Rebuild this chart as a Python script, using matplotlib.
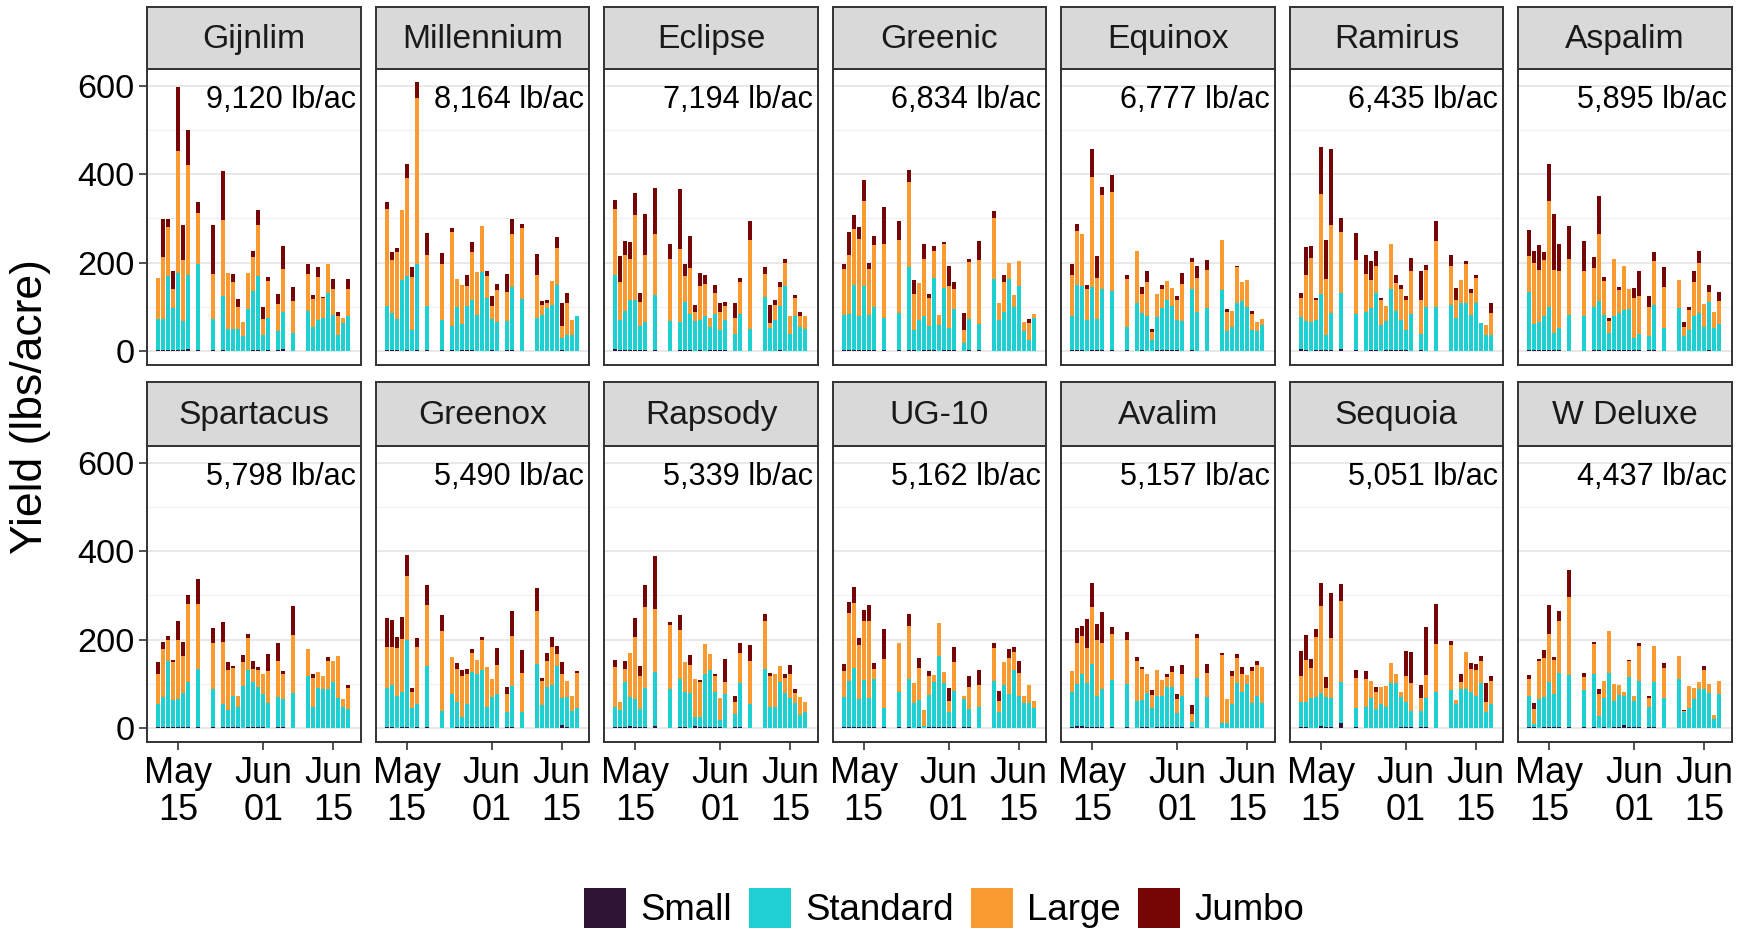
import datetime as dt
import matplotlib
matplotlib.use("Agg")
import matplotlib.pyplot as plt
import matplotlib.dates as mdates
from matplotlib import font_manager
from matplotlib.patches import Patch

# Harvest dates (same for every variety)
dates = ["2023-05-11", "2023-05-12", "2023-05-13", "2023-05-14", "2023-05-15",
         "2023-05-16", "2023-05-17", "2023-05-19", "2023-05-22", "2023-05-24",
         "2023-05-25", "2023-05-26", "2023-05-27", "2023-05-28", "2023-05-29",
         "2023-05-30", "2023-05-31", "2023-06-01", "2023-06-02", "2023-06-04",
         "2023-06-05", "2023-06-07", "2023-06-10", "2023-06-11", "2023-06-12",
         "2023-06-13", "2023-06-14", "2023-06-15", "2023-06-16", "2023-06-17",
         "2023-06-18"]

varieties = ["Gijnlim", "Millennium", "Eclipse", "Greenic", "Equinox", "Ramirus", "Aspalim",
             "Spartacus", "Greenox", "Rapsody", "UG-10", "Avalim", "Sequoia", "W Deluxe"]
totals = [9120, 8164, 7194, 6834, 6777, 6435, 5895,
          5798, 5490, 5339, 5162, 5157, 5051, 4437]

grades = ["Small", "Standard", "Large", "Jumbo"]
grade_colors = ["#2E1535", "#1FD0D3", "#F99B30", "#760606"]

# yield per harvest, lbs/acre
gijnlim_small = [2, 3, 2, 1, 2, 2, 5, 2, 1, 2, 0, 0, 0, 0, 0, 1, 2, 0, 1, 1, 4, 0, 0, 0, 0, 0, 0, 0, 0, 0, 0]
gijnlim_std = [70, 70, 167, 97, 174, 65, 167, 195, 70, 122, 49, 49, 49, 34, 94, 134, 167, 36, 74, 44, 83, 40, 91, 55, 69, 74, 132, 82, 36, 63, 78]
gijnlim_large = [93, 140, 111, 41, 277, 138, 248, 115, 102, 172, 128, 108, 51, 32, 83, 78, 115, 36, 83, 62, 98, 72, 83, 63, 98, 45, 64, 58, 42, 12, 62]
gijnlim_jumbo = [0, 85, 19, 42, 144, 79, 79, 24, 112, 111, 0, 17, 18, 0, 0, 13, 35, 27, 10, 21, 53, 32, 22, 9, 22, 3, 0, 23, 10, 0, 23]

millennium_small = [2, 3, 1, 0, 2, 0, 3, 2, 1, 1, 0, 1, 1, 1, 0, 0, 0, 1, 0, 2, 2, 0, 0, 0, 0, 0, 0, 1, 0, 0, 0]
millennium_std = [100, 82, 70, 161, 167, 48, 193, 100, 69, 55, 100, 59, 100, 115, 82, 179, 120, 70, 66, 66, 142, 118, 74, 82, 97, 104, 149, 29, 36, 36, 78]
millennium_large = [219, 120, 153, 158, 222, 120, 377, 115, 127, 214, 62, 88, 46, 108, 97, 103, 50, 30, 72, 65, 121, 160, 98, 22, 11, 54, 83, 26, 73, 34, 0]
millennium_jumbo = [17, 18, 8, 0, 32, 21, 36, 50, 25, 9, 0, 0, 24, 22, 0, 0, 10, 23, 14, 41, 34, 10, 48, 8, 7, 0, 25, 53, 22, 0, 0]

eclipse_small = [4, 1, 1, 1, 2, 2, 1, 3, 0, 1, 1, 1, 0, 1, 0, 1, 1, 2, 2, 0, 0, 0, 0, 0, 0, 1, 0, 0, 0, 0, 0]
eclipse_std = [167, 69, 89, 114, 114, 54, 65, 123, 68, 64, 109, 82, 68, 68, 79, 54, 82, 45, 68, 38, 83, 49, 123, 51, 70, 100, 147, 38, 79, 55, 49]
eclipse_large = [151, 86, 127, 92, 192, 55, 150, 138, 140, 165, 59, 105, 19, 78, 73, 20, 47, 40, 31, 36, 72, 202, 51, 13, 34, 44, 53, 40, 40, 24, 30]
eclipse_jumbo = [19, 59, 32, 39, 49, 20, 94, 105, 34, 137, 27, 72, 17, 30, 20, 0, 18, 21, 10, 34, 10, 44, 15, 40, 10, 11, 8, 0, 8, 10, 0]

greenic_small = [3, 1, 1, 2, 1, 3, 1, 1, 1, 3, 1, 0, 1, 1, 1, 0, 1, 3, 1, 0, 1, 1, 0, 0, 0, 0, 0, 0, 0, 0, 0]
greenic_std = [79, 82, 147, 78, 146, 78, 99, 74, 84, 186, 46, 69, 78, 55, 165, 59, 142, 49, 93, 17, 72, 59, 162, 69, 89, 162, 100, 147, 44, 25, 74]
greenic_large = [104, 135, 127, 173, 192, 105, 139, 166, 165, 194, 82, 84, 128, 64, 61, 23, 98, 94, 47, 31, 128, 146, 138, 39, 68, 38, 27, 57, 22, 38, 10]
greenic_jumbo = [10, 51, 32, 27, 48, 12, 22, 85, 45, 26, 31, 0, 36, 8, 10, 0, 6, 46, 15, 37, 6, 43, 17, 0, 15, 0, 0, 0, 0, 9, 0]

equinox_small = [1, 3, 1, 0, 2, 2, 1, 2, 1, 0, 1, 0, 0, 1, 1, 2, 1, 2, 0, 1, 0, 0, 0, 0, 0, 0, 0, 0, 0, 0, 0]
equinox_std = [79, 146, 146, 69, 143, 70, 140, 134, 53, 108, 84, 78, 25, 76, 97, 112, 100, 68, 68, 140, 89, 97, 137, 46, 55, 108, 112, 99, 48, 44, 59]
equinox_large = [91, 122, 117, 71, 248, 92, 211, 223, 108, 118, 43, 77, 17, 51, 41, 45, 42, 46, 84, 60, 76, 86, 114, 42, 36, 81, 45, 62, 36, 21, 13]
equinox_jumbo = [26, 17, 0, 9, 64, 50, 19, 39, 9, 0, 16, 25, 7, 0, 9, 0, 0, 8, 24, 10, 28, 23, 0, 6, 0, 4, 0, 0, 7, 0, 0]

ramirus_small = [4, 2, 0, 1, 1, 1, 1, 4, 1, 0, 1, 1, 0, 1, 1, 2, 1, 2, 0, 1, 0, 0, 0, 0, 0, 0, 0, 0, 0, 0, 0]
ramirus_std = [72, 66, 66, 69, 127, 34, 84, 127, 82, 88, 97, 131, 59, 66, 140, 89, 69, 45, 84, 38, 99, 99, 104, 74, 109, 109, 82, 108, 63, 36, 36]
ramirus_large = [43, 104, 144, 45, 226, 127, 201, 139, 123, 86, 62, 60, 55, 34, 100, 63, 71, 68, 97, 77, 84, 149, 88, 41, 52, 87, 50, 57, 0, 23, 49]
ramirus_jumbo = [12, 64, 28, 4, 108, 90, 172, 31, 60, 42, 43, 35, 5, 0, 0, 18, 9, 9, 29, 65, 12, 46, 25, 28, 0, 8, 9, 6, 0, 0, 24]

aspalim_small = [2, 2, 1, 1, 3, 1, 1, 0, 0, 1, 1, 0, 2, 1, 1, 2, 3, 2, 1, 2, 3, 0, 0, 0, 0, 0, 0, 0, 2, 0, 0]
aspalim_std = [131, 59, 64, 78, 97, 40, 51, 82, 79, 99, 112, 82, 38, 79, 84, 91, 91, 26, 38, 32, 100, 51, 97, 34, 48, 78, 85, 55, 109, 51, 60]
aspalim_large = [81, 137, 117, 126, 239, 141, 129, 126, 102, 88, 152, 77, 28, 127, 52, 100, 47, 91, 85, 65, 100, 93, 64, 21, 45, 77, 115, 51, 22, 36, 52]
aspalim_jumbo = [60, 29, 57, 19, 85, 127, 60, 74, 67, 25, 85, 8, 6, 0, 8, 0, 0, 23, 57, 26, 21, 45, 0, 11, 7, 25, 25, 0, 17, 0, 22]

spartacus_small = [2, 2, 2, 1, 3, 2, 3, 2, 1, 1, 1, 1, 1, 0, 1, 1, 1, 2, 0, 1, 1, 0, 0, 0, 0, 0, 0, 0, 0, 0, 0]
spartacus_std = [53, 67, 149, 61, 62, 77, 100, 132, 87, 53, 40, 72, 47, 95, 131, 102, 91, 74, 57, 68, 65, 78, 117, 47, 91, 89, 89, 104, 67, 47, 42]
spartacus_large = [68, 110, 48, 86, 134, 83, 178, 146, 105, 141, 91, 62, 25, 54, 71, 30, 39, 45, 71, 83, 56, 133, 62, 65, 35, 28, 63, 47, 95, 18, 49]
spartacus_jumbo = [26, 15, 9, 5, 43, 32, 19, 58, 34, 45, 16, 6, 0, 15, 9, 19, 7, 0, 40, 41, 7, 64, 0, 10, 0, 0, 8, 0, 0, 0, 6]

greenox_small = [1, 2, 0, 1, 1, 0, 1, 1, 0, 0, 1, 1, 1, 1, 2, 3, 1, 1, 0, 1, 2, 0, 0, 0, 0, 0, 0, 6, 1, 0, 0]
greenox_std = [89, 95, 72, 80, 198, 46, 53, 140, 38, 76, 57, 23, 53, 126, 121, 127, 47, 68, 76, 35, 92, 37, 145, 51, 92, 98, 140, 61, 68, 38, 46]
greenox_large = [92, 86, 109, 120, 144, 36, 128, 137, 182, 84, 75, 94, 69, 42, 30, 69, 89, 42, 66, 41, 115, 88, 120, 55, 59, 85, 28, 56, 38, 34, 79]
greenox_jumbo = [66, 62, 25, 50, 49, 9, 22, 46, 36, 0, 13, 13, 10, 9, 0, 7, 0, 0, 39, 16, 56, 52, 51, 6, 19, 22, 17, 26, 0, 0, 3]

rapsody_small = [1, 2, 1, 4, 1, 2, 1, 4, 0, 1, 1, 0, 4, 2, 2, 1, 1, 1, 0, 1, 2, 0, 0, 0, 0, 0, 0, 0, 0, 0, 0]
rapsody_std = [46, 38, 102, 65, 65, 40, 89, 123, 87, 110, 80, 80, 20, 23, 121, 131, 80, 17, 76, 31, 100, 55, 134, 47, 47, 104, 80, 67, 57, 29, 35]
rapsody_large = [90, 18, 30, 101, 140, 75, 183, 142, 146, 110, 67, 62, 86, 79, 66, 35, 37, 49, 28, 26, 67, 97, 108, 70, 75, 36, 33, 56, 23, 41, 24]
rapsody_jumbo = [16, 0, 19, 0, 43, 22, 50, 120, 6, 34, 0, 22, 1, 4, 0, 0, 5, 0, 51, 13, 24, 36, 15, 8, 0, 0, 8, 19, 9, 0, 0]

ug10_small = [2, 2, 2, 1, 2, 1, 1, 2, 1, 1, 0, 1, 0, 1, 2, 1, 2, 2, 1, 1, 1, 0, 0, 0, 0, 0, 0, 0, 0, 0, 0]
ug10_std = [67, 104, 134, 65, 106, 66, 110, 42, 80, 110, 57, 61, 5, 74, 102, 162, 100, 35, 83, 65, 42, 48, 106, 35, 98, 76, 132, 72, 57, 57, 46]
ug10_large = [60, 153, 146, 122, 135, 175, 22, 113, 110, 120, 45, 73, 35, 43, 15, 75, 25, 24, 64, 7, 49, 48, 75, 26, 51, 82, 40, 53, 15, 41, 15]
ug10_jumbo = [16, 25, 37, 16, 24, 36, 13, 67, 0, 26, 0, 24, 0, 11, 0, 0, 0, 30, 35, 0, 26, 36, 10, 22, 0, 21, 11, 26, 0, 0, 0]

avalim_small = [1, 4, 4, 1, 2, 1, 2, 2, 1, 0, 1, 1, 0, 1, 1, 2, 2, 3, 1, 1, 0, 0, 0, 0, 0, 0, 0, 0, 0, 0, 0]
avalim_std = [80, 96, 119, 100, 143, 72, 87, 106, 98, 61, 62, 77, 44, 72, 72, 91, 91, 31, 72, 12, 112, 70, 12, 12, 53, 102, 82, 100, 57, 72, 57]
avalim_large = [47, 91, 84, 79, 128, 125, 104, 105, 99, 90, 70, 44, 30, 59, 35, 21, 34, 31, 49, 19, 91, 55, 154, 54, 64, 56, 39, 19, 71, 70, 80]
avalim_jumbo = [0, 35, 23, 66, 56, 36, 69, 15, 19, 9, 5, 0, 11, 0, 0, 7, 12, 12, 20, 19, 9, 20, 4, 0, 11, 9, 16, 0, 9, 9, 0]

sequoia_small = [2, 1, 0, 0, 4, 2, 2, 12, 1, 0, 0, 0, 0, 0, 0, 0, 1, 2, 1, 2, 1, 0, 0, 0, 0, 0, 0, 0, 0, 0, 0]
sequoia_std = [57, 57, 68, 70, 76, 67, 65, 92, 44, 47, 67, 42, 53, 47, 102, 102, 68, 57, 38, 37, 67, 82, 85, 53, 87, 87, 82, 72, 102, 37, 53]
sequoia_large = [58, 95, 68, 135, 196, 22, 137, 183, 68, 64, 39, 40, 39, 48, 45, 20, 12, 58, 62, 28, 52, 108, 102, 9, 17, 85, 52, 58, 49, 22, 54]
sequoia_jumbo = [57, 57, 19, 19, 51, 24, 101, 39, 19, 17, 0, 10, 0, 0, 0, 0, 0, 58, 70, 30, 108, 91, 10, 0, 19, 0, 13, 15, 11, 43, 10]

wdeluxe_small = [1, 1, 0, 1, 2, 2, 3, 1, 3, 1, 0, 1, 0, 1, 1, 6, 2, 2, 3, 1, 2, 0, 0, 0, 0, 0, 0, 0, 0, 0, 0]
wdeluxe_std = [70, 8, 66, 68, 102, 74, 121, 119, 82, 122, 27, 66, 125, 59, 74, 67, 112, 59, 102, 46, 102, 67, 111, 35, 46, 66, 89, 87, 80, 20, 76]
wdeluxe_large = [40, 34, 85, 90, 109, 78, 118, 176, 30, 66, 50, 38, 95, 39, 22, 9, 37, 12, 80, 21, 81, 69, 51, 3, 49, 25, 15, 45, 20, 9, 30]
wdeluxe_jumbo = [9, 14, 4, 17, 64, 6, 22, 62, 9, 6, 10, 0, 0, 0, 0, 0, 2, 0, 6, 3, 0, 11, 0, 2, 0, 0, 0, 9, 0, 0, 0]

yields = {
    "Gijnlim": [gijnlim_small, gijnlim_std, gijnlim_large, gijnlim_jumbo],
    "Millennium": [millennium_small, millennium_std, millennium_large, millennium_jumbo],
    "Eclipse": [eclipse_small, eclipse_std, eclipse_large, eclipse_jumbo],
    "Greenic": [greenic_small, greenic_std, greenic_large, greenic_jumbo],
    "Equinox": [equinox_small, equinox_std, equinox_large, equinox_jumbo],
    "Ramirus": [ramirus_small, ramirus_std, ramirus_large, ramirus_jumbo],
    "Aspalim": [aspalim_small, aspalim_std, aspalim_large, aspalim_jumbo],
    "Spartacus": [spartacus_small, spartacus_std, spartacus_large, spartacus_jumbo],
    "Greenox": [greenox_small, greenox_std, greenox_large, greenox_jumbo],
    "Rapsody": [rapsody_small, rapsody_std, rapsody_large, rapsody_jumbo],
    "UG-10": [ug10_small, ug10_std, ug10_large, ug10_jumbo],
    "Avalim": [avalim_small, avalim_std, avalim_large, avalim_jumbo],
    "Sequoia": [sequoia_small, sequoia_std, sequoia_large, sequoia_jumbo],
    "W Deluxe": [wdeluxe_small, wdeluxe_std, wdeluxe_large, wdeluxe_jumbo],
}

tick_dates = ["2023-05-15", "2023-06-01", "2023-06-15"]
tick_labels = ["May\n15", "Jun\n01", "Jun\n15"]

# The reference text looks tall and narrow; use the narrow face when present
installed = {f.name for f in font_manager.fontManager.ttflist}
if "Liberation Sans Narrow" in installed:
    FONT, k = "Liberation Sans Narrow", 1.0
else:
    FONT, k = "Liberation Sans", 0.85
plt.rcParams["font.family"] = [FONT, "DejaVu Sans"]

W, H = 1747, 932
fig = plt.figure(figsize=(W / 100, H / 100), dpi=100)

x = mdates.date2num([dt.date.fromisoformat(d) for d in dates])
x0 = mdates.date2num(dt.date(2023, 5, 15))
xlim = (x0 - 6.2, x0 + 36.5)

PANEL_W, PANEL_H = 213.4, 296
LEFT0, PITCH = 147.3, 228.5
ROW_TOP = [69, 446]
STRIP_H = [62, 64]
EDGE = "#333333"

for i, name in enumerate(varieties):
    row, col = divmod(i, 7)
    left = LEFT0 + col * PITCH
    top = ROW_TOP[row]
    ax = fig.add_axes([left / W, 1 - (top + PANEL_H) / H, PANEL_W / W, PANEL_H / H])

    base = [0] * len(x)
    for vals, color in zip(yields[name], grade_colors):
        ax.bar(x, vals, width=0.82, bottom=base, color=color, linewidth=0, zorder=3)
        base = [b + v for b, v in zip(base, vals)]

    ax.set_xlim(*xlim)
    ax.set_ylim(-32, 638)
    ax.set_yticks([0, 200, 400, 600])
    ax.set_yticks([100, 300, 500], minor=True)
    ax.grid(axis="y", which="major", color="#E6E6E6", linewidth=1.3, zorder=0)
    ax.grid(axis="y", which="minor", color="#F0F0F0", linewidth=0.9, zorder=0)
    ax.tick_params(axis="y", which="minor", left=False)
    for s in ax.spines.values():
        s.set_color(EDGE)
        s.set_linewidth(1.4)

    ax.set_xticks(mdates.date2num([dt.date.fromisoformat(d) for d in tick_dates]))
    if row == 1:
        ax.set_xticklabels(tick_labels, fontsize=30.5 * k, linespacing=1.08)
        ax.tick_params(axis="x", length=6, width=1.2, color=EDGE, pad=4)
    else:
        ax.tick_params(axis="x", length=0, labelbottom=False)
    if col == 0:
        ax.set_yticklabels(["0", "200", "400", "600"], fontsize=29 * k)
        ax.tick_params(axis="y", length=6, width=1.2, color=EDGE, pad=3)
    else:
        ax.tick_params(axis="y", which="major", length=0, labelleft=False)

    ax.text(1 - 5 / PANEL_W, 549, f"{totals[i]:,} lb/ac", transform=ax.get_yaxis_transform(),
            ha="right", va="baseline", fontsize=26 * k, color="black", zorder=4)

    # facet strip
    sh = STRIP_H[row]
    sax = fig.add_axes([left / W, 1 - top / H, PANEL_W / W, sh / H])
    sax.set_facecolor("#D9D9D9")
    sax.set_xticks([])
    sax.set_yticks([])
    for s in sax.spines.values():
        s.set_color(EDGE)
        s.set_linewidth(1.4)
    sax.text(0.5, 0.47, name, ha="center", va="center", fontsize=28.5 * k, color="#1A1A1A",
             transform=sax.transAxes)

fig.text(31 / W, 1 - 407 / H, "Yield (lbs/acre)", rotation=90, ha="center", va="center",
         fontsize=32, family="Liberation Sans")

handles = [Patch(facecolor=c, edgecolor="none") for c in grade_colors]
fig.legend(handles, grades, loc="center", bbox_to_anchor=(944 / W, 1 - 908 / H), ncol=4,
           frameon=False, fontsize=31 * k, handlelength=1.15, handleheight=1.3,
           handletextpad=0.4, columnspacing=0.45, borderpad=0)

fig.savefig("out.png", dpi=100)
